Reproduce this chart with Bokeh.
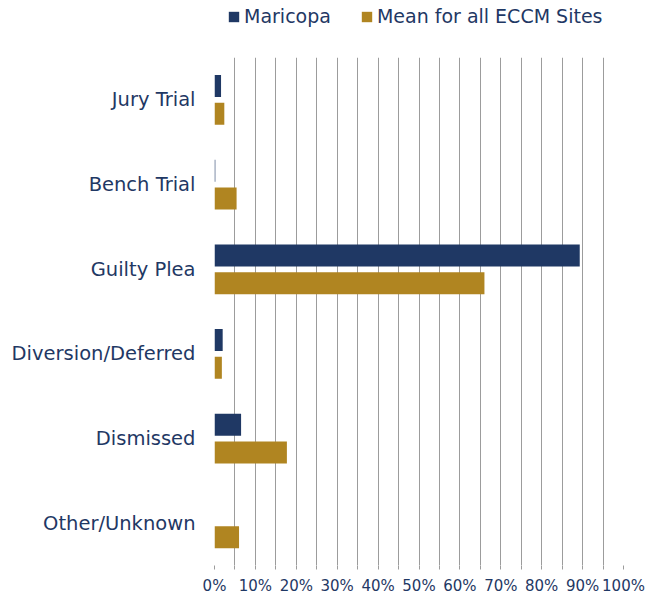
from bokeh.plotting import figure
from bokeh.layouts import column
from bokeh.models import ColumnDataSource, FactorRange, Range1d, FixedTicker, Legend, LegendItem, NumeralTickFormatter
from bokeh.transform import dodge
from bokeh.embed import file_html
from bokeh.resources import INLINE

categories = ["Jury Trial", "Bench Trial", "Guilty Plea", "Diversion/Deferred", "Dismissed", "Other/Unknown"]
maricopa = [0.016, 0.002, 0.893, 0.020, 0.065, 0.0]
mean_eccm = [0.024, 0.054, 0.660, 0.018, 0.177, 0.060]
series_names = ["Maricopa", "Mean for all ECCM Sites"]
major_ticks = [0.0, 0.1, 0.2, 0.3, 0.4, 0.5, 0.6, 0.7, 0.8, 0.9, 1.0]
minor_ticks = [0.05, 0.15, 0.25, 0.35, 0.45, 0.55, 0.65, 0.75, 0.85, 0.95]

NAVY = "#1f3864"
GOLD = "#b08521"
TEXT = "#1f3864"
FONT = "DejaVu Sans"
GRID = "#9c9c9c"

src = ColumnDataSource(dict(cat=categories, m=maricopa, e=mean_eccm))

p = figure(width=645, height=554, output_backend="svg", toolbar_location=None,
           y_range=FactorRange(*reversed(categories), range_padding=0),
           x_range=Range1d(0, 1.0),
           min_border_left=214, min_border_right=22, min_border_top=12, min_border_bottom=34)

p.hbar(y=dodge("cat", 0.162, range=p.y_range), right="m", left=0, height=0.26,
       source=src, fill_color=NAVY, line_color=None)
p.hbar(y=dodge("cat", -0.165, range=p.y_range), right="e", left=0, height=0.26,
       source=src, fill_color=GOLD, line_color=None)

p.outline_line_color = None
p.ygrid.grid_line_color = None
p.xgrid.grid_line_color = GRID
p.xgrid.minor_grid_line_color = GRID
p.xgrid.level = "underlay"
p.xaxis.ticker = FixedTicker(ticks=major_ticks, minor_ticks=minor_ticks)
p.xaxis.formatter = NumeralTickFormatter(format="0%")
p.xaxis.axis_line_color = None
p.xaxis.major_tick_line_color = GRID
p.xaxis.minor_tick_line_color = GRID
p.xaxis.major_tick_in = 0
p.xaxis.major_tick_out = 4
p.xaxis.minor_tick_in = 0
p.xaxis.minor_tick_out = 4
p.xaxis.major_label_text_font = FONT
p.xaxis.major_label_text_font_size = "15px"
p.xaxis.major_label_text_color = TEXT
p.xaxis.major_label_standoff = 7

p.yaxis.axis_line_color = None
p.yaxis.major_tick_line_color = None
p.yaxis.minor_tick_line_color = None
p.yaxis.major_label_text_font = FONT
p.yaxis.major_label_text_font_size = "19.5px"
p.yaxis.major_label_text_color = TEXT
p.yaxis.major_label_standoff = 13

# legend strip above the chart (its glyphs have zero height, only the legend shows)
lg = figure(width=645, height=45, output_backend="svg", toolbar_location=None,
            x_range=Range1d(0, 1.0), y_range=FactorRange(*reversed(categories)),
            min_border_left=0, min_border_right=0, min_border_top=0, min_border_bottom=0)
lg.axis.visible = False
lg.grid.visible = False
lg.outline_line_color = None
l1 = lg.hbar(y="cat", right="m", left=0, height=0, source=src, fill_color=NAVY, line_color=None)
l2 = lg.hbar(y="cat", right="e", left=0, height=0, source=src, fill_color=GOLD, line_color=None)

legend = Legend(items=[LegendItem(label=series_names[0], renderers=[l1]),
                       LegendItem(label=series_names[1], renderers=[l2])],
                orientation="horizontal", location=(13, 18),
                label_text_font=FONT, label_text_font_size="19px", label_text_color=TEXT,
                glyph_width=13, glyph_height=13, spacing=29, padding=0, margin=0,
                label_standoff=4,
                border_line_color=None, background_fill_alpha=0)
lg.add_layout(legend, "center")

layout = column(lg, p, spacing=0)
open("out.html", "w").write(file_html(layout, INLINE))
